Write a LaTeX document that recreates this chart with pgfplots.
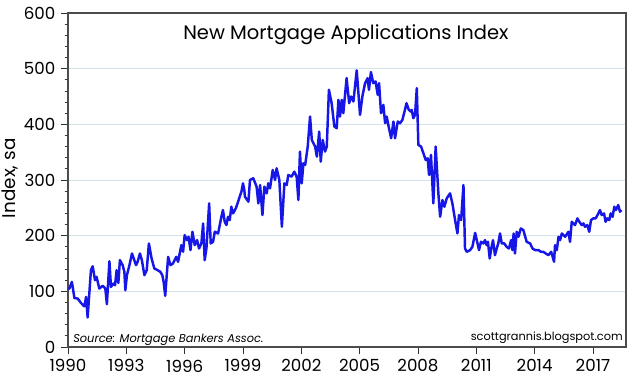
\documentclass[border=0pt]{standalone}
\usepackage{fontspec}
\setmainfont{Poppins}
\usepackage{pgfplots}
\pgfplotsset{compat=1.18}
\definecolor{lineblue}{RGB}{22,22,230}
\definecolor{gridc}{RGB}{212,226,236}
\begin{document}
\begin{tikzpicture}
\useasboundingbox (-51pt,-25.5pt) rectangle (429pt,260.25pt);
\begin{axis}[
  at={(0,0)}, anchor=south west,
  scale only axis, width=418.5pt, height=250.5pt,
  xmin=1990, xmax=2018.7, ymin=0, ymax=600,
  xtick={1990,1993,...,2017}, minor x tick num=2,
  ytick={0,100,...,600}, minor y tick num=4,
  /pgf/number format/1000 sep={},
  /pgf/number format/assume math mode=true,
  tick label style={font=\fontsize{12.5}{14}\selectfont, text=black},
  xticklabel style={yshift=-1pt},
  yticklabel style={xshift=-1pt},
  tick align=outside, tick pos=left,
  major tick length=5pt, minor tick length=2.5pt,
  tick style={black!80, line width=0.6pt},
  ymajorgrids, grid style={gridc, line width=0.7pt},
  axis line style={black!70, line width=1pt},
  ylabel={Index, sa},
  ylabel style={at={(axis description cs:-0.104,0.505)}, anchor=center, font=\fontsize{13.8}{16}\selectfont},
  clip=true,
]
\addplot[lineblue, line width=1.85pt, line join=round] table {
x y
1990.00 105
1990.07 105
1990.20 117
1990.33 88
1990.50 87
1990.67 79
1990.84 73
1990.93 90
1991.01 53
1991.18 138
1991.27 145
1991.39 120
1991.47 126
1991.61 105
1991.78 110
1991.92 105
1992.00 77
1992.13 154
1992.21 108
1992.33 114
1992.42 111
1992.50 138
1992.59 115
1992.67 156
1992.81 147
1992.90 135
1992.95 102
1993.03 129
1993.16 147
1993.29 168
1993.41 156
1993.50 147
1993.58 153
1993.70 168
1993.80 156
1993.93 129
1994.05 138
1994.16 186
1994.30 159
1994.44 141
1994.61 138
1994.75 135
1994.85 129
1994.92 117
1995.00 92
1995.15 162
1995.27 147
1995.40 150
1995.57 162
1995.66 153
1995.83 183
1995.92 171
1996.00 201
1996.12 192
1996.20 198
1996.30 174
1996.40 207
1996.52 183
1996.64 192
1996.74 177
1996.86 186
1996.95 222
1997.03 156
1997.12 177
1997.26 258
1997.34 186
1997.46 189
1997.55 207
1997.72 204
1997.89 234
1997.97 246
1998.06 225
1998.15 219
1998.23 234
1998.32 228
1998.40 252
1998.49 240
1998.63 249
1998.75 261
1998.83 270
1998.92 279
1999.00 294
1999.07 282
1999.10 270
1999.28 261
1999.36 300
1999.53 303
1999.70 288
1999.79 258
1999.88 291
2000.00 237
2000.10 288
2000.22 276
2000.30 294
2000.39 285
2000.53 318
2000.65 300
2000.73 321
2000.87 300
2001.00 216
2001.13 294
2001.25 291
2001.33 309
2001.50 306
2001.64 315
2001.76 306
2001.85 264
2001.93 351
2002.02 294
2002.11 330
2002.20 327
2002.33 360
2002.45 414
2002.54 372
2002.71 360
2002.80 342
2002.92 387
2003.00 333
2003.10 372
2003.22 351
2003.31 360
2003.42 462
2003.56 438
2003.70 396
2003.82 393
2003.91 444
2003.99 414
2004.08 444
2004.16 420
2004.33 483
2004.46 438
2004.56 450
2004.68 441
2004.85 497
2005.02 417
2005.14 450
2005.28 474
2005.41 483
2005.48 462
2005.58 494
2005.70 474
2005.82 477
2005.93 453
2006.00 474
2006.10 420
2006.22 435
2006.31 402
2006.39 414
2006.51 393
2006.62 375
2006.74 405
2006.82 375
2006.96 405
2007.08 402
2007.20 408
2007.33 426
2007.41 438
2007.53 426
2007.62 423
2007.68 426
2007.76 411
2007.85 417
2007.94 465
2008.02 363
2008.16 360
2008.28 348
2008.40 336
2008.50 339
2008.57 309
2008.67 345
2008.79 258
2008.91 360
2009.05 276
2009.14 234
2009.26 264
2009.36 252
2009.48 267
2009.65 276
2009.77 258
2009.91 228
2010.03 204
2010.11 237
2010.22 228
2010.34 291
2010.42 177
2010.51 171
2010.68 174
2010.80 180
2010.94 205
2011.07 185
2011.14 174
2011.24 189
2011.36 186
2011.45 192
2011.53 183
2011.60 189
2011.69 159
2011.77 177
2011.86 192
2011.96 165
2012.05 177
2012.13 186
2012.22 204
2012.31 186
2012.44 186
2012.56 180
2012.68 177
2012.79 192
2012.86 174
2012.92 204
2012.99 168
2013.08 207
2013.17 198
2013.29 213
2013.42 210
2013.59 189
2013.77 186
2013.89 177
2014.03 174
2014.20 174
2014.33 171
2014.45 171
2014.57 168
2014.71 165
2014.85 171
2014.93 162
2015.00 153
2015.05 183
2015.14 174
2015.23 198
2015.31 192
2015.40 204
2015.57 198
2015.74 207
2015.82 189
2015.91 225
2015.99 222
2016.08 219
2016.20 231
2016.30 225
2016.42 219
2016.51 222
2016.59 216
2016.71 219
2016.81 207
2016.90 228
2017.02 231
2017.14 231
2017.28 240
2017.36 246
2017.45 237
2017.57 240
2017.65 225
2017.74 231
2017.84 228
2017.91 240
2018.01 234
2018.10 252
2018.18 246
2018.30 255
2018.39 243
2018.47 246
};
\node[anchor=base, font=\fontsize{14.6}{17}\selectfont] at (axis description cs:0.498,0.922) {New Mortgage Applications Index};
\node[anchor=base west, inner sep=0pt, font=\itshape\fontsize{8.55}{10}\selectfont] at (axis description cs:0.009,0.012) {Source: Mortgage Bankers Assoc.};
\node[anchor=base east, inner sep=0pt, font=\fontsize{8.5}{10}\selectfont] at (axis description cs:0.9946,0.018) {scottgrannis.blogspot.com};
\end{axis}
\end{tikzpicture}
\end{document}
